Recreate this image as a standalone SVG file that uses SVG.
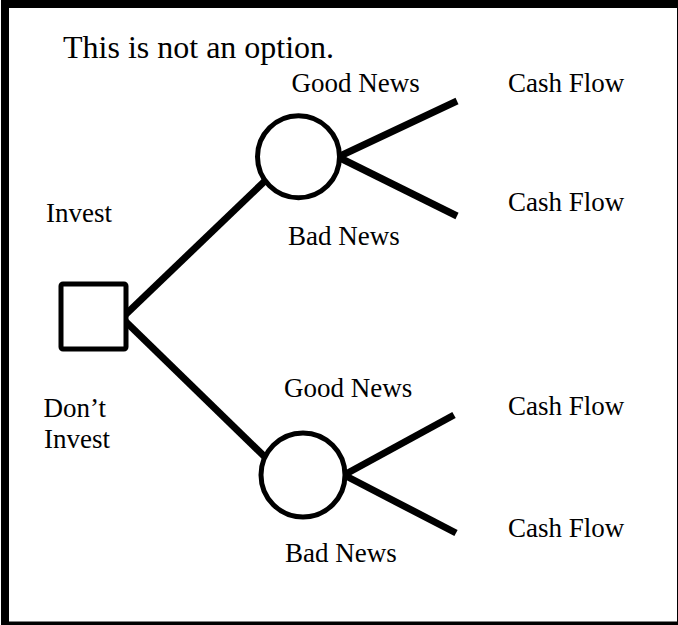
<svg xmlns="http://www.w3.org/2000/svg" width="678" height="625" viewBox="0 0 678 625">
<style>
.t{font-family:"Liberation Serif","Times New Roman",serif;font-size:27px;fill:#000}
.n{fill:#fff;stroke:#000;stroke-width:5}
.c{stroke:#000;stroke-width:7;stroke-linecap:butt;fill:none}
</style>
<rect x="0" y="0" width="678" height="625" fill="#fff"/>
<rect x="5" y="4" width="676" height="621.5" fill="none" stroke="#000" stroke-width="8"/>
<text x="63" y="58" style="font-family:'Liberation Serif','Times New Roman',serif;font-size:32px">This is not an option.</text>
<g id="connectors">
<line class="c" x1="122" y1="318" x2="268" y2="178"/>
<line class="c" x1="122" y1="318" x2="266" y2="458"/>
<line class="c" x1="338" y1="157" x2="457" y2="101"/>
<line class="c" x1="338" y1="157" x2="457" y2="216"/>
<line class="c" x1="344" y1="475" x2="454" y2="415"/>
<line class="c" x1="344" y1="475" x2="456" y2="533"/>
</g>
<g id="decision">
<rect class="n" x="61" y="284" width="65" height="65" rx="2"/>
</g>
<g id="chance1">
<circle class="n" cx="298.5" cy="156.7" r="41"/>
</g>
<g id="chance2">
<circle class="n" cx="303" cy="475" r="42"/>
</g>
<g id="labels">
<text class="t" x="46" y="222">Invest</text>
<text class="t" x="43.5" y="417">Don’t</text>
<text class="t" x="44" y="448">Invest</text>
<text class="t" x="291.5" y="92">Good News</text>
<text class="t" x="288" y="245">Bad News</text>
<text class="t" x="284" y="397">Good News</text>
<text class="t" x="285" y="562">Bad News</text>
<text class="t" x="508" y="92">Cash Flow</text>
<text class="t" x="508" y="211">Cash Flow</text>
<text class="t" x="508" y="415">Cash Flow</text>
<text class="t" x="508" y="537">Cash Flow</text>
</g>
</svg>
